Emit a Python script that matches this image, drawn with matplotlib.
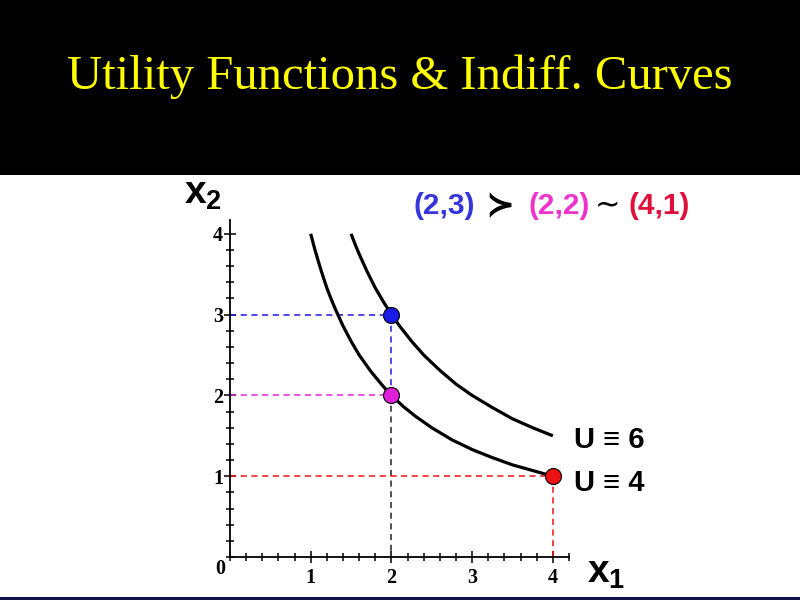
import matplotlib
matplotlib.use("Agg")
import matplotlib.pyplot as plt
from matplotlib.patches import Rectangle
from matplotlib.ticker import MultipleLocator, FixedLocator

plt.rcParams['mathtext.fontset'] = 'custom'
plt.rcParams['mathtext.bf'] = 'Liberation Sans:bold'
plt.rcParams['mathtext.rm'] = 'Liberation Sans:bold'

# indifference curves, points
u4_x1 = [1.0, 1.05, 1.1, 1.15, 1.2, 1.25, 1.3, 1.4, 1.5, 1.6, 1.75, 1.9, 2.0, 2.15, 2.3,
         2.5, 2.75, 3.0, 3.25, 3.5, 3.75, 4.0]
u4_x2 = [4.0, 3.81, 3.64, 3.48, 3.33, 3.2, 3.08, 2.86, 2.67, 2.5, 2.29, 2.11, 2.0, 1.86,
         1.74, 1.6, 1.45, 1.33, 1.23, 1.14, 1.07, 1.0]
u6_x1 = [1.5, 1.55, 1.6, 1.7, 1.8, 1.9, 2.0, 2.1, 2.25, 2.4, 2.6, 2.8, 3.0, 3.25, 3.5,
         3.75, 4.0]
u6_x2 = [4.0, 3.87, 3.75, 3.53, 3.33, 3.16, 3.0, 2.86, 2.67, 2.5, 2.31, 2.14, 2.0, 1.85,
         1.71, 1.6, 1.5]

# bundles
bundles = [(2, 3), (2, 2), (4, 1)]
bundle_colors = ['#1a1ae6', '#e020d8', '#ee1111']
text_colors = ['#3535dd', '#ee33cc', '#e0103a']
ticks = [1, 2, 3, 4]

fig = plt.figure(figsize=(8, 6), dpi=100)
fig.patch.set_facecolor('white')
fig.add_artist(Rectangle((0, 1 - 175 / 600), 1, 175 / 600, transform=fig.transFigure,
                         facecolor='black', edgecolor='none'))
fig.add_artist(Rectangle((0, 0), 1, 3 / 600, transform=fig.transFigure,
                         facecolor='#10104a', edgecolor='none'))
fig.text(0.5, 1 - 77 / 600, "Utility Functions & Indiff. Curves", color='#ffff00',
         family='Liberation Serif', fontsize=35, ha='center', va='center')

ax = fig.add_axes([230 / 800, 43 / 600, 339 / 800, 4.17 * 80.8 / 600])
ax.set_xlim(0, 4.2)
ax.set_ylim(0, 4.17)
for s in ['top', 'right']:
    ax.spines[s].set_visible(False)
for s in ['left', 'bottom']:
    ax.spines[s].set_linewidth(1.3)

ax.xaxis.set_major_locator(FixedLocator(ticks))
ax.yaxis.set_major_locator(FixedLocator(ticks))
ax.xaxis.set_minor_locator(MultipleLocator(0.2))
ax.yaxis.set_minor_locator(MultipleLocator(0.2))
ax.tick_params(which='both', direction='inout', width=1.1, labelsize=14.5,
               labelfontfamily='Liberation Serif')
ax.tick_params(which='major', length=8)
ax.tick_params(which='minor', length=6)
ax.tick_params(axis='x', pad=4)
ax.tick_params(axis='y', pad=1)
for lab in ax.get_xticklabels() + ax.get_yticklabels():
    lab.set_fontweight('bold')
ax.text(-0.12, -0.15, "0", family='Liberation Serif', fontweight='bold', fontsize=14.5,
        ha='center', va='center', clip_on=False)

# dashed guide lines
dash = dict(linestyle=(0, (4, 3)), linewidth=1.1)
(bx, by), (mx, my), (rx, ry) = bundles
ax.plot([0, bx], [by, by], color=bundle_colors[0], **dash)
ax.plot([bx, bx], [by, my], color=bundle_colors[0], **dash)
ax.plot([0, mx], [my, my], color=bundle_colors[1], **dash)
ax.plot([mx, mx], [my, 0], color='#222222', **dash)
ax.plot([0, rx], [ry, ry], color=bundle_colors[2], **dash)
ax.plot([rx, rx], [ry, 0], color=bundle_colors[2], **dash)

ax.plot(u4_x1, u4_x2, color='black', linewidth=2.3, solid_capstyle='butt',
        solid_joinstyle='round')
ax.plot(u6_x1, u6_x2, color='black', linewidth=2.3, solid_capstyle='butt',
        solid_joinstyle='round')

for (px, py), c in zip(bundles, bundle_colors):
    ax.plot(px, py, 'o', color=c, markersize=11.5, markeredgecolor='black',
            markeredgewidth=0.8, zorder=5, clip_on=False)

# axis labels
fig.text(184 / 800, 1 - 193 / 600, r'$\mathbf{x}_\mathbf{2}$', fontsize=28,
         ha='left', va='center')
fig.text(587 / 800, 1 - 572 / 600, r'$\mathbf{x}_\mathbf{1}$', fontsize=28,
         ha='left', va='center')

# preference relation
sans = ['Liberation Sans', 'DejaVu Sans']
y_pref = 1 - 206 / 600
fig.text(414 / 800, y_pref, "(%d,%d)" % bundles[0], color=text_colors[0], fontsize=21.5,
         fontweight='bold', family=sans, ha='left', va='center')
fig.text(500 / 800, y_pref, "\u227b", color='black', fontsize=25, fontweight='bold',
         family=['DejaVu Sans'], ha='center', va='center')
fig.text(528 / 800, y_pref, "(%d,%d)" % bundles[1], color=text_colors[1], fontsize=21.5,
         fontweight='bold', family=sans, ha='left', va='center')
fig.text(608 / 800, y_pref, "\u223c", color='black', fontsize=22,
         family=['DejaVu Sans'], ha='center', va='center')
fig.text(629 / 800, y_pref, "(%d,%d)" % bundles[2], color=text_colors[2], fontsize=21.5,
         fontweight='bold', family=sans, ha='left', va='center')

fig.text(574 / 800, 1 - 440 / 600, "U \u2261 6", fontsize=21, fontweight='bold',
         family=sans, ha='left', va='center')
fig.text(574 / 800, 1 - 483 / 600, "U \u2261 4", fontsize=21, fontweight='bold',
         family=sans, ha='left', va='center')

fig.savefig("out.png", dpi=100)
